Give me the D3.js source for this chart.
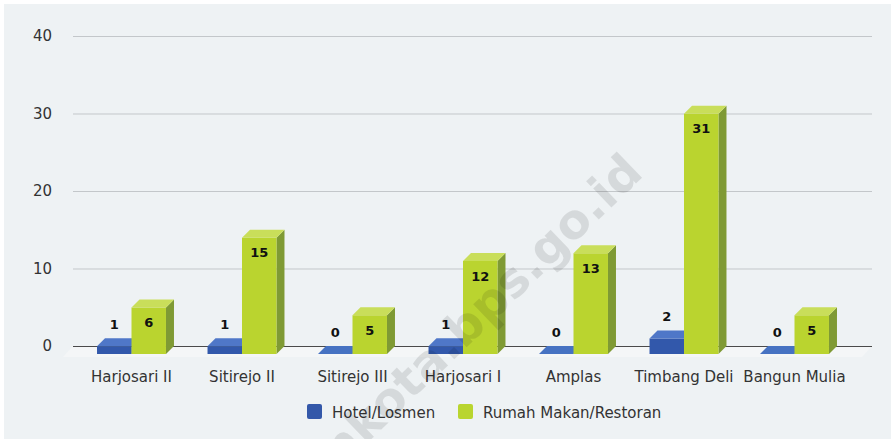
<!DOCTYPE html>
<html lang="id">
<head>
  <meta charset="UTF-8" />
  <title>Hotel/Losmen dan Rumah Makan/Restoran</title>
  <script src="https://unpkg.com/d3@7/dist/d3.min.js"></script>
  <style>
    body {
      margin: 0;
      background: #ffffff;
      font-family: "DejaVu Sans", Verdana, sans-serif;
    }
    svg { display: block; }
    .tick-label { font-size: 15px; fill: #333; }
    .cat-label  { font-size: 15px; fill: #333; }
    .legend-text { font-size: 15px; fill: #333; }
    .val-label { font-size: 13px; font-weight: bold; fill: #111; }
  </style>
</head>
<body>
  <svg id="chart" width="891" height="439"></svg>

  <script>
  const categories = ["Harjosari II", "Sitirejo II", "Sitirejo III", "Harjosari I", "Amplas", "Timbang Deli", "Bangun Mulia"];
  const seriesNames = ["Hotel/Losmen", "Rumah Makan/Restoran"];
  const hotelValues = [1, 1, 0, 1, 0, 2, 0];
  const restoranValues = [6, 15, 5, 12, 13, 31, 5];
  const yTicks = [0, 10, 20, 30, 40];

  const colors = [
    { front: "#3258ab", top: "#4f77c8", side: "#26458a", legend: "#3358a9" },
    { front: "#bad42f", top: "#c9de5a", side: "#7f9a34", legend: "#b9d52f" }
  ];

  const svg = d3.select("#chart");
  const W = 891, H = 439;
  const depth = 8;              // oblique offset for the 3d look
  const plot = { left: 73, right: 872, top: 36, bottom: 346 };

  // panel background
  svg.append("rect")
    .attr("x", 4).attr("y", 4)
    .attr("width", W - 4).attr("height", H - 4)
    .attr("fill", "#eef2f4");

  const y = d3.scaleLinear().domain([0, 40]).range([plot.bottom, plot.top]);

  const x = d3.scaleBand()
    .domain(categories)
    .range([76.25, 849.75])
    .paddingInner(0.376)
    .paddingOuter(0.188);

  const xs = d3.scaleBand().domain(seriesNames).range([0, x.bandwidth()]);

  // gridlines (back wall)
  svg.append("g").selectAll("line")
    .data(yTicks.filter(t => t > 0))
    .join("line")
      .attr("x1", plot.left).attr("x2", plot.right)
      .attr("y1", d => y(d) + 0.5).attr("y2", d => y(d) + 0.5)
      .attr("stroke", "#c3c7ca")
      .attr("stroke-width", 1);

  // floor
  svg.append("path")
    .attr("d", `M${plot.left},${plot.bottom} L${plot.right},${plot.bottom} L${plot.right - 10},${plot.bottom + 11} L${plot.left - 10},${plot.bottom + 11} Z`)
    .attr("fill", "#f4f6f7");

  svg.append("line")
    .attr("x1", plot.left).attr("x2", plot.right)
    .attr("y1", y(0) + 0.5).attr("y2", y(0) + 0.5)
    .attr("stroke", "#4a4a4a")
    .attr("stroke-width", 1);

  // y tick labels
  svg.append("g").selectAll("text")
    .data(yTicks)
    .join("text")
      .attr("class", "tick-label")
      .attr("x", 52)
      .attr("y", d => y(d))
      .attr("dy", "0.36em")
      .attr("text-anchor", "end")
      .text(d => d);

  // bars
  const rows = [];
  categories.forEach((c, i) => {
    rows.push({ cat: c, s: 0, v: hotelValues[i] });
    rows.push({ cat: c, s: 1, v: restoranValues[i] });
  });

  const bars = svg.append("g").selectAll("g")
    .data(rows)
    .join("g");

  bars.each(function(d) {
    const g = d3.select(this);
    const x0 = x(d.cat) + xs(seriesNames[d.s]);
    const w = xs.bandwidth();
    const yb = y(0) + depth;
    const yt = y(d.v) + depth;
    const c = colors[d.s];
    // side + front
    if (d.v > 0) {
      g.append("path")
        .attr("d", `M${x0 + w},${yt} L${x0 + w + depth},${yt - depth} L${x0 + w + depth},${yb - depth} L${x0 + w},${yb} Z`)
        .attr("fill", c.side);
      g.append("rect")
        .attr("x", x0).attr("y", yt)
        .attr("width", w).attr("height", yb - yt)
        .attr("fill", c.front);
    }
    // top
    g.append("path")
      .attr("d", `M${x0},${yt} L${x0 + w},${yt} L${x0 + w + depth},${yt - depth} L${x0 + depth},${yt - depth} Z`)
      .attr("fill", d.v > 0 ? c.top : "#4672c2");
  });

  // value labels
  svg.append("g").selectAll("text")
    .data(rows)
    .join("text")
      .attr("class", "val-label")
      .attr("x", d => x(d.cat) + xs(seriesNames[d.s]) + xs.bandwidth() / 2)
      .attr("y", d => {
        const top = y(d.v) + depth;
        return (y(0) - y(d.v)) > 20 ? top + 15 : top - 22;
      })
      .attr("dy", "0.36em")
      .attr("text-anchor", "middle")
      .text(d => d.v);

  // category labels
  svg.append("g").selectAll("text")
    .data(categories)
    .join("text")
      .attr("class", "cat-label")
      .attr("x", d => x(d) + x.bandwidth() / 2)
      .attr("y", 382)
      .attr("text-anchor", "middle")
      .text(d => d);

  // legend
  const legend = svg.append("g");
  const legendX = [307, 458];
  seriesNames.forEach((name, i) => {
    legend.append("rect")
      .attr("x", legendX[i]).attr("y", 404)
      .attr("width", 15).attr("height", 15)
      .attr("rx", 2)
      .attr("fill", colors[i].legend);
    legend.append("text")
      .attr("class", "legend-text")
      .attr("x", legendX[i] + 25)
      .attr("y", 418)
      .text(name);
  });

  // watermark
  svg.append("text")
    .attr("transform", "translate(645,175) rotate(-44)")
    .attr("text-anchor", "end")
    .attr("font-size", 48)
    .attr("font-weight", "bold")
    .attr("fill", "#000")
    .attr("fill-opacity", 0.1)
    .text("medankota.bps.go.id");
  </script>
</body>
</html>
